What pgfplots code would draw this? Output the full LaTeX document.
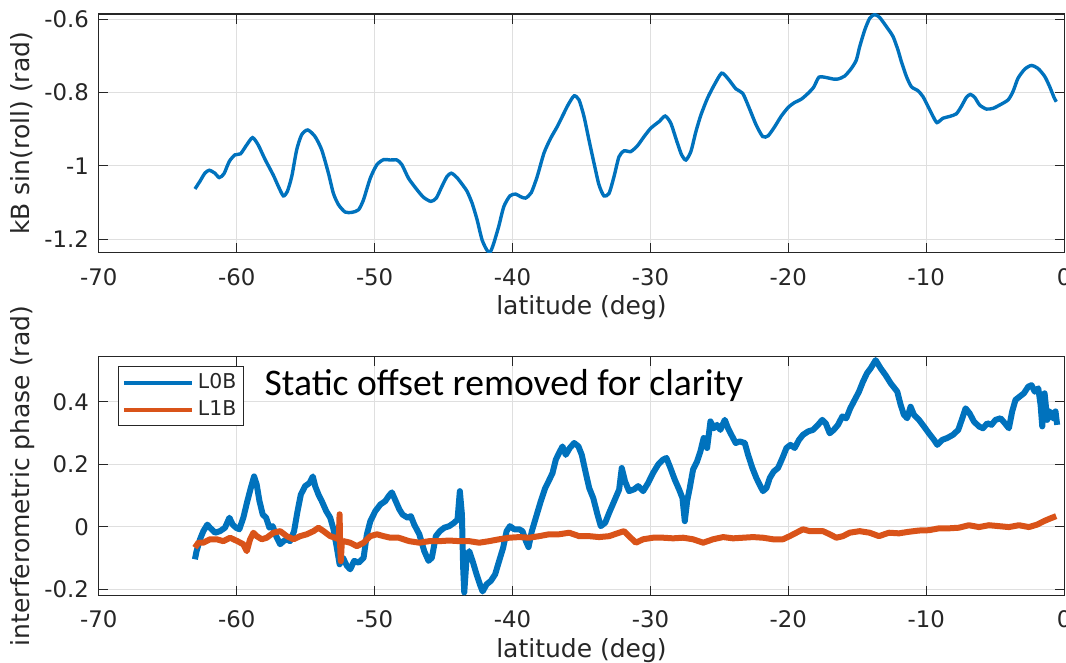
\documentclass[border=0pt]{standalone}
\usepackage{fontspec}
\setmainfont{DejaVu Sans}
\newfontfamily\calibri{Carlito}
\usepackage{pgfplots}
\pgfplotsset{compat=1.18}
\definecolor{mblue}{HTML}{0072BD}
\definecolor{morange}{HTML}{D95319}
\definecolor{axgray}{HTML}{262626}
\definecolor{gridgray}{HTML}{DFDFDF}

\pgfplotsset{
  latplot/.style={
    scale only axis, width=482.7pt,
    xmin=-70, xmax=0, xtick={-70,-60,...,0},
    tick align=inside, tick pos=both, major tick length=4.8pt,
    grid=major, grid style={gridgray, line width=0.6pt},
    axis line style={axgray, line width=0.6pt},
    every tick/.style={axgray, line width=0.6pt},
    tick label style={font=\fontsize{11.4}{13}\selectfont, text=axgray},
    /pgf/number format/assume math mode=true,
    xticklabel style={anchor=base, yshift=-16.2pt},
    yticklabel style={anchor=east, xshift=-1.4pt},
    label style={font=\fontsize{12.5}{15}\selectfont, text=axgray},
    xlabel={latitude (deg)},
    xlabel style={at={(axis description cs:0.5,0)}, anchor=base, yshift=-31pt},
    ylabel style={at={(axis description cs:-0.0713,0.5)}, anchor=base},
  }
}

\begin{document}
\begin{tikzpicture}
% roll term
\begin{axis}[latplot, at={(0,0)}, anchor=south west,
  height=119.35pt, ymin=-1.237, ymax=-0.5855,
  ytick={-1.2,-1,-0.8,-0.6},
  ylabel={kB sin(roll) (rad)}]
\addplot[mblue, line width=1.7pt, smooth, tension=0.4] coordinates {
(-63.03,-1.063) (-62.68,-1.043) (-62.31,-1.020) (-61.99,-1.012) (-61.58,-1.020)
(-61.27,-1.032) (-60.93,-1.022) (-60.54,-0.988) (-60.13,-0.970) (-59.72,-0.967)
(-59.28,-0.943) (-58.85,-0.923) (-58.44,-0.943) (-57.95,-0.982) (-57.35,-1.025)
(-56.98,-1.056) (-56.62,-1.082) (-56.33,-1.070) (-56.01,-1.029) (-55.65,-0.956)
(-55.29,-0.915) (-54.85,-0.902) (-54.32,-0.920) (-53.84,-0.956) (-53.35,-1.020)
(-52.99,-1.075) (-52.62,-1.106) (-52.14,-1.126) (-51.65,-1.127) (-51.17,-1.120)
(-50.81,-1.093) (-50.32,-1.034) (-49.84,-0.997) (-49.35,-0.983) (-48.87,-0.984)
(-48.38,-0.984) (-48.02,-0.997) (-47.54,-1.034) (-46.93,-1.065) (-46.45,-1.086)
(-45.92,-1.097) (-45.53,-1.088) (-45.12,-1.056) (-44.75,-1.029) (-44.44,-1.020)
(-44.03,-1.032) (-43.54,-1.056) (-43.29,-1.070) (-42.93,-1.102) (-42.57,-1.147)
(-42.21,-1.202) (-41.84,-1.231) (-41.60,-1.234) (-41.36,-1.211) (-41.00,-1.165)
(-40.63,-1.111) (-40.19,-1.082) (-39.78,-1.077) (-39.42,-1.084) (-39.06,-1.088)
(-38.64,-1.073) (-38.21,-1.029) (-37.72,-0.965) (-37.24,-0.925) (-36.76,-0.893)
(-36.39,-0.865) (-35.98,-0.834) (-35.54,-0.809) (-35.18,-0.820) (-34.82,-0.865)
(-34.46,-0.929) (-34.09,-0.993) (-33.73,-1.052) (-33.37,-1.082) (-33.00,-1.075)
(-32.64,-1.029) (-32.28,-0.975) (-31.91,-0.959) (-31.43,-0.961) (-30.94,-0.945)
(-30.46,-0.920) (-29.97,-0.897) (-29.37,-0.879) (-28.93,-0.864) (-28.52,-0.884)
(-28.08,-0.934) (-27.74,-0.970) (-27.43,-0.984) (-27.07,-0.961) (-26.70,-0.906)
(-26.34,-0.861) (-25.86,-0.815) (-25.37,-0.779) (-24.84,-0.747) (-24.40,-0.761)
(-23.80,-0.790) (-23.31,-0.802) (-22.83,-0.843) (-22.34,-0.888) (-21.86,-0.920)
(-21.47,-0.918) (-20.99,-0.893) (-20.51,-0.864) (-20.00,-0.840) (-19.54,-0.827)
(-19.06,-0.818) (-18.57,-0.802) (-18.16,-0.785) (-17.78,-0.758) (-17.24,-0.759)
(-16.76,-0.763) (-16.40,-0.763) (-15.92,-0.755) (-15.43,-0.734) (-15.07,-0.711)
(-14.83,-0.675) (-14.46,-0.629) (-14.10,-0.597) (-13.74,-0.587) (-13.38,-0.595)
(-12.89,-0.620) (-12.41,-0.647) (-12.05,-0.684) (-11.81,-0.715) (-11.44,-0.756)
(-11.08,-0.784) (-10.60,-0.795) (-10.24,-0.811) (-9.87,-0.838) (-9.51,-0.865)
(-9.22,-0.882) (-8.79,-0.870) (-8.30,-0.865) (-7.82,-0.858) (-7.46,-0.838)
(-7.09,-0.813) (-6.80,-0.805) (-6.49,-0.813) (-6.13,-0.834) (-5.64,-0.845)
(-5.16,-0.843) (-4.68,-0.834) (-4.07,-0.820) (-3.71,-0.797) (-3.35,-0.761)
(-2.86,-0.736) (-2.38,-0.726) (-1.90,-0.734) (-1.41,-0.756) (-1.05,-0.784)
(-0.74,-0.813) (-0.57,-0.825)
};
\end{axis}

% interferometric phase
\begin{axis}[latplot, at={(0,-171.3pt)}, anchor=south west,
  height=119.3pt, ymin=-0.2192, ymax=0.544,
  ytick={-0.2,0,0.2,0.4},
  ylabel={interferometric phase (rad)},
  legend style={at={(axis description cs:0.0197,0.960)}, anchor=north west,
    draw=axgray, line width=0.5pt, fill=white,
    font=\fontsize{10.2}{12}\selectfont, text=axgray,
    inner xsep=1.8pt, inner ysep=1.5pt, row sep=0.5pt,
    nodes={inner sep=2pt, text depth=0.15em}, cells={anchor=west}},
  legend image code/.code={\draw[#1, line width=2pt] (0pt,0pt) -- (34pt,0pt);}]
\addplot[mblue, line width=3pt, line join=round] coordinates {
(-63.03,-0.104) (-62.91,-0.078) (-62.66,-0.040) (-62.42,-0.014) (-62.13,0.007)
(-61.94,-0.003) (-61.57,-0.019) (-61.21,-0.014) (-60.85,-0.003) (-60.53,0.029)
(-60.29,0.007) (-60.05,-0.003) (-59.81,-0.008) (-59.52,0.029) (-59.23,0.082)
(-58.98,0.124) (-58.74,0.161) (-58.55,0.135) (-58.35,0.082) (-58.11,0.039)
(-57.87,0.029) (-57.63,-0.003) (-57.39,0.002) (-57.14,-0.030) (-56.85,-0.056)
(-56.61,-0.046) (-56.37,-0.040) (-56.13,-0.046) (-55.84,-0.014) (-55.59,0.050)
(-55.35,0.103) (-55.04,0.130) (-54.72,0.140) (-54.48,0.161) (-54.31,0.130)
(-54.07,0.103) (-53.83,0.082) (-53.51,0.050) (-53.22,0.029) (-52.98,-0.008)
(-52.74,-0.067) (-52.54,-0.120) (-52.30,-0.099) (-52.01,-0.125) (-51.77,-0.136)
(-51.48,-0.109) (-51.16,-0.115) (-50.80,-0.099) (-50.56,-0.024) (-50.31,0.018)
(-49.95,0.050) (-49.59,0.071) (-49.23,0.082) (-48.95,0.100) (-48.75,0.110)
(-48.50,0.085) (-48.20,0.055) (-47.97,0.039) (-47.61,0.029) (-47.37,0.034)
(-47.13,0.007) (-46.76,-0.024) (-46.40,-0.078) (-46.09,-0.109) (-45.85,-0.099)
(-45.56,-0.030) (-45.27,-0.014) (-44.95,-0.003) (-44.59,0.002) (-44.23,0.013)
(-43.99,0.023) (-43.82,0.114) (-43.67,0.039) (-43.58,-0.131) (-43.50,-0.210)
(-43.33,-0.099) (-43.14,-0.078) (-42.90,-0.109) (-42.61,-0.152) (-42.37,-0.184)
(-42.17,-0.207) (-41.88,-0.184) (-41.57,-0.173) (-41.26,-0.152) (-40.97,-0.109)
(-40.68,-0.067) (-40.43,-0.014) (-40.19,0.002) (-39.88,-0.008) (-39.52,-0.008)
(-39.28,-0.014) (-39.03,-0.046) (-38.84,-0.065) (-38.60,-0.014) (-38.31,0.029)
(-37.95,0.082) (-37.63,0.124) (-37.39,0.145) (-37.10,0.172) (-36.86,0.215)
(-36.57,0.241) (-36.38,0.257) (-36.14,0.230) (-35.85,0.252) (-35.53,0.268)
(-35.22,0.257) (-34.98,0.230) (-34.69,0.172) (-34.44,0.124) (-34.15,0.092)
(-33.84,0.039) (-33.60,0.002) (-33.28,0.013) (-32.99,0.045) (-32.63,0.082)
(-32.27,0.119) (-32.08,0.188) (-31.84,0.145) (-31.55,0.114) (-31.18,0.120)
(-30.89,0.130) (-30.53,0.114) (-30.17,0.140) (-29.81,0.172) (-29.44,0.199)
(-29.08,0.215) (-28.84,0.220) (-28.55,0.188) (-28.24,0.151) (-27.92,0.119)
(-27.68,0.092) (-27.51,0.018) (-27.34,0.082) (-27.15,0.124) (-26.91,0.183)
(-26.62,0.209) (-26.38,0.241) (-26.14,0.284) (-25.89,0.252) (-25.65,0.337)
(-25.41,0.315) (-25.17,0.326) (-24.93,0.310) (-24.61,0.342) (-24.37,0.315)
(-24.13,0.294) (-23.82,0.268) (-23.53,0.273) (-23.16,0.268) (-22.92,0.230)
(-22.61,0.188) (-22.32,0.156) (-22.03,0.130) (-21.84,0.114) (-21.59,0.124)
(-21.35,0.156) (-21.06,0.177) (-20.75,0.188) (-20.43,0.220) (-20.14,0.252)
(-19.85,0.262) (-19.54,0.252) (-19.23,0.278) (-18.94,0.294) (-18.57,0.305)
(-18.21,0.310) (-17.85,0.326) (-17.54,0.342) (-17.29,0.331) (-17.00,0.299)
(-16.71,0.310) (-16.40,0.326) (-16.09,0.353) (-15.80,0.347) (-15.51,0.379)
(-15.19,0.406) (-14.88,0.432) (-14.59,0.464) (-14.30,0.491) (-14.03,0.507)
(-13.67,0.533) (-13.31,0.507) (-12.95,0.485) (-12.58,0.459) (-12.10,0.432)
(-11.86,0.390) (-11.62,0.358) (-11.38,0.347) (-11.14,0.384) (-10.89,0.358)
(-10.53,0.342) (-10.17,0.321) (-9.81,0.299) (-9.44,0.278) (-9.20,0.262)
(-8.84,0.278) (-8.48,0.284) (-8.07,0.294) (-7.68,0.310) (-7.39,0.347)
(-7.15,0.379) (-6.86,0.363) (-6.55,0.337) (-6.18,0.321) (-5.89,0.315)
(-5.58,0.331) (-5.27,0.326) (-4.98,0.342) (-4.61,0.347) (-4.30,0.331)
(-4.01,0.315) (-3.77,0.369) (-3.53,0.406) (-3.24,0.416) (-2.92,0.427)
(-2.61,0.448) (-2.37,0.453) (-2.13,0.432) (-1.88,0.443) (-1.71,0.390)
(-1.59,0.321) (-1.42,0.427) (-1.23,0.342) (-1.04,0.369) (-0.82,0.347)
(-0.63,0.369) (-0.51,0.326)
};
\addlegendentry{L0B}
\addplot[morange, line width=3pt, line join=round] coordinates {
(-63.03,-0.067) (-62.78,-0.051) (-62.42,-0.051) (-61.94,-0.040) (-61.45,-0.040)
(-60.97,-0.046) (-60.48,-0.035) (-59.95,-0.046) (-59.52,-0.056) (-59.27,-0.078)
(-59.03,-0.040) (-58.79,-0.019) (-58.55,-0.030) (-58.18,-0.040) (-57.82,-0.035)
(-57.34,-0.019) (-56.85,-0.014) (-56.37,-0.030) (-55.88,-0.040) (-55.40,-0.030)
(-54.92,-0.024) (-54.43,-0.014) (-54.07,-0.003) (-53.70,-0.014) (-53.22,-0.030)
(-52.86,-0.035) (-52.60,-0.040) (-52.54,0.040) (-52.50,-0.060) (-52.45,-0.110)
(-52.38,-0.050) (-52.25,-0.046) (-51.77,-0.051) (-51.28,-0.062) (-50.80,-0.051)
(-50.31,-0.030) (-49.83,-0.024) (-49.35,-0.030) (-48.86,-0.035) (-48.26,-0.035)
(-47.49,-0.046) (-46.76,-0.051) (-46.04,-0.046) (-45.31,-0.046) (-44.59,-0.044)
(-43.86,-0.046) (-43.14,-0.046) (-42.42,-0.051) (-41.69,-0.046) (-40.97,-0.040)
(-40.24,-0.035) (-39.52,-0.033) (-38.79,-0.035) (-38.07,-0.030) (-37.34,-0.024)
(-36.62,-0.024) (-35.89,-0.019) (-35.17,-0.030) (-34.44,-0.030) (-33.72,-0.033)
(-32.99,-0.030) (-32.27,-0.019) (-31.91,-0.014) (-31.55,-0.030) (-31.06,-0.051)
(-30.53,-0.040) (-29.81,-0.035) (-29.08,-0.035) (-28.36,-0.037) (-27.63,-0.035)
(-26.91,-0.040) (-26.18,-0.051) (-25.46,-0.040) (-24.73,-0.033) (-24.01,-0.037)
(-23.29,-0.035) (-22.56,-0.033) (-21.84,-0.035) (-21.11,-0.040) (-20.39,-0.040)
(-19.90,-0.030) (-19.42,-0.019) (-18.94,-0.008) (-18.45,-0.014) (-17.97,-0.014)
(-17.49,-0.014) (-17.00,-0.024) (-16.52,-0.035) (-16.04,-0.030) (-15.56,-0.019)
(-14.83,-0.014) (-14.11,-0.019) (-13.43,-0.030) (-12.71,-0.019) (-11.98,-0.021)
(-11.26,-0.016) (-10.53,-0.012) (-9.81,-0.011) (-9.08,-0.005) (-8.36,-0.005)
(-7.63,-0.003) (-6.91,0.005) (-6.18,-0.001) (-5.46,0.005) (-4.73,0.002)
(-4.01,-0.001) (-3.28,0.005) (-2.56,-0.001) (-1.96,0.007) (-1.47,0.018)
(-0.99,0.027) (-0.58,0.034)
};
\addlegendentry{L1B}
\node[anchor=base west, inner sep=0pt, font=\calibri\fontsize{18.8}{22}\selectfont]
  at (axis cs:-58,0.42) {Static offset removed for clarity};
\end{axis}

\pgfresetboundingbox
\path[use as bounding box] (-49.4pt,-205.15pt) rectangle (483.6pt,126.35pt);
\end{tikzpicture}
\end{document}
